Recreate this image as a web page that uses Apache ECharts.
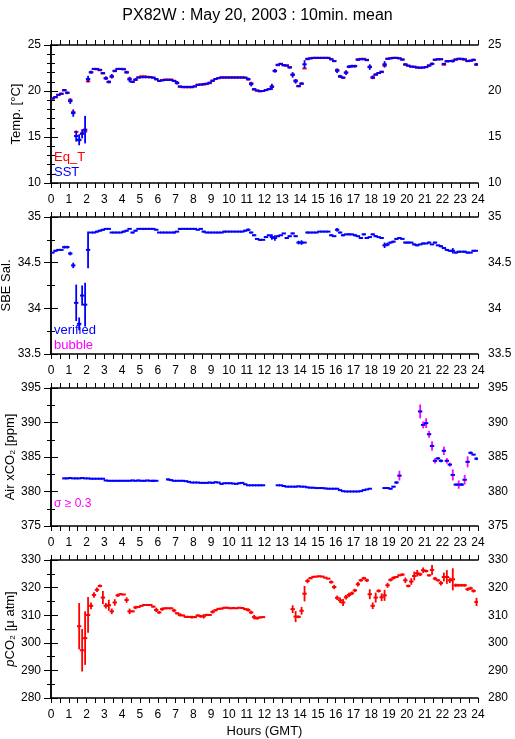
<!DOCTYPE html>
<html><head><meta charset="utf-8">
<script src="https://cdn.jsdelivr.net/npm/echarts@6/dist/echarts.min.js"></script>
<style>html,body{margin:0;padding:0;background:#fff}#c{width:515px;height:739px}</style>
</head><body><div id="c"></div>
<script>
const _ = null;
// 10-minute slots, index k -> mid-time (k*10+5) minutes
const SLOT_MIN = 10;
const hourTicks = [0,1,2,3,4,5,6,7,8,9,10,11,12,13,14,15,16,17,18,19,20,21,22,23,24];

const sstVal = [19.2,19.35,19.6,19.7,20.1,19.8,18.9,17.6,15.1,14.7,15.35,15.8,
21.3,22.05,22.4,22.4,22.3,21.95,21.4,21.0,21.6,22.2,22.4,22.4,
22.35,22.05,21.25,21.0,21.25,21.45,21.5,21.5,21.5,21.5,21.45,21.3,
21.1,21.15,21.2,21.2,21.2,21.1,20.9,20.5,20.45,20.45,20.45,20.45,
20.5,20.65,20.7,20.75,20.8,20.9,21.1,21.3,21.4,21.45,21.45,21.45,
21.45,21.45,21.45,21.45,21.45,21.45,21.3,20.75,20.2,20.05,20.0,20.0,
20.1,20.2,20.45,22.2,22.85,22.95,22.8,22.75,22.55,21.75,21.05,20.55,
20.8,22.9,23.5,23.55,23.6,23.6,23.6,23.6,23.6,23.6,23.45,23.25,
22.2,21.6,21.45,22.0,22.65,22.7,22.7,23.4,23.45,23.45,23.35,22.6,
21.5,21.8,21.95,22.1,22.9,23.5,23.55,23.6,23.6,23.55,23.4,22.9,
22.75,22.65,22.65,22.55,22.55,22.55,22.6,22.75,22.95,23.4,23.45,23.45,
22.95,23.25,23.25,23.25,23.4,23.5,23.5,23.45,23.25,23.3,23.4,22.9];
const sstSd = [0.05,0.1,0.05,0.1,0.1,0.15,0.3,0.4,0.6,0.6,0.5,1.5,
0.35,0.15,0,0,0.05,0.1,0.2,0.15,0.25,0.1,0,0,
0.05,0.15,0.3,0.1,0.15,0,0,0,0,0,0.05,0.1,
0.05,0,0,0,0,0.1,0.2,0.05,0,0,0,0,
0.05,0.1,0.05,0.1,0.05,0.1,0.1,0.1,0.05,0,0,0,
0,0,0,0,0,0,0.15,0.25,0.1,0,0,0,
0.05,0.1,0.35,0.2,0.1,0,0.1,0.05,0.1,0.3,0.25,0.1,
0.15,0.45,0.1,0,0,0,0,0,0,0,0.05,0.1,
0.25,0.15,0.1,0.25,0.15,0.15,0.15,0.1,0,0.05,0.05,0.3,
0.2,0.1,0.1,0.1,0.35,0.1,0,0,0,0,0.05,0.1,
0.05,0,0.05,0,0.05,0.05,0.05,0.05,0.15,0.05,0,0,
0.1,0.05,0.05,0.15,0.05,0,0,0.05,0.1,0.05,0.1,0.15];
const eqtVal = [19.15,19.3,19.55,19.7,20.05,19.8,19.05,17.7,15.55,14.65,15.4,15.6,
21.05,22.0,22.4,22.35,22.25,21.9,21.35,20.95,21.55,22.15,22.4,22.4,
22.4,22.0,21.35,21.0,21.2,21.5,21.6,21.6,21.55,21.5,21.45,21.25,
21.1,21.2,21.25,21.25,21.25,21.1,20.85,20.45,20.4,20.4,20.4,20.4,
20.5,20.7,20.7,20.7,20.75,20.85,21.15,21.3,21.4,21.5,21.5,21.5,
21.5,21.5,21.5,21.5,21.5,21.45,21.25,20.85,20.15,20.05,19.95,20.0,
20.1,20.2,20.5,22.15,22.8,22.95,22.8,22.8,22.6,21.8,21.15,20.5,
20.8,22.45,23.45,23.55,23.6,23.6,23.6,23.6,23.6,23.6,23.45,23.25,
22.3,21.55,21.45,22.0,22.6,22.7,22.7,23.45,23.5,23.5,23.4,22.65,
21.4,21.75,21.95,22.05,22.75,23.5,23.55,23.6,23.6,23.55,23.45,22.85,
22.75,22.65,22.6,22.55,22.5,22.55,22.6,22.8,22.95,23.4,23.45,23.45,
22.85,23.2,23.25,23.3,23.45,23.5,23.45,23.4,23.25,23.3,23.35,22.85];

const salVal = [34.61,34.63,34.64,34.64,34.67,34.67,34.60,34.47,34.06,33.83,34.14,34.04,
34.64,34.83,34.83,34.84,34.85,34.86,34.87,34.87,34.83,34.83,34.83,34.83,
34.84,34.85,34.87,34.83,34.85,34.87,34.87,34.87,34.87,34.87,34.87,34.86,
34.83,34.83,34.83,34.83,34.83,34.83,34.84,34.87,34.87,34.87,34.87,34.87,
34.87,34.86,34.87,34.84,34.83,34.83,34.83,34.83,34.83,34.83,34.84,34.84,
34.84,34.84,34.84,34.84,34.84,34.85,34.86,34.83,34.80,34.76,34.75,34.75,
34.78,34.80,34.78,34.77,34.79,34.80,34.82,34.77,34.79,34.82,34.79,34.72,
34.72,34.72,34.83,34.83,34.83,34.83,34.84,34.84,34.84,34.84,34.80,34.79,
34.86,34.83,34.80,34.81,34.81,34.81,34.80,34.79,34.77,34.81,34.77,34.78,
34.81,34.79,34.78,34.77,34.69,34.70,34.72,34.73,34.76,34.77,34.76,34.72,
34.72,34.72,34.70,34.69,34.70,34.71,34.71,34.72,34.70,34.72,34.69,34.68,
34.66,34.64,34.63,34.63,34.61,34.62,34.62,34.62,34.61,34.61,34.63,34.63];
const salSd = [0.005,0.01,0,0,0.015,0.015,0.02,0.03,0.2,0.07,0.11,0.24,
0.2,0,0,0.01,0.01,0.01,0,0,0,0,0,0,
0.01,0.01,0,0.01,0.01,0,0,0,0,0,0,0,
0,0,0,0,0,0.01,0,0.01,0,0,0,0,
0,0,0,0.01,0,0,0,0,0,0,0.01,0,
0,0,0,0,0,0.01,0.015,0.01,0.01,0,0.01,0,
0.01,0,0.03,0.03,0.01,0,0,0.01,0.01,0.01,0.01,0.02,
0.025,0,0.01,0,0,0,0,0,0,0,0.01,0,
0.02,0.01,0.01,0,0.01,0,0.01,0,0.01,0.01,0.01,0,
0.01,0.01,0,0.01,0.03,0.02,0.01,0.01,0.01,0.01,0,0.01,
0.01,0,0.01,0.01,0,0.01,0,0.01,0,0.01,0,0.01,
0.01,0.01,0.01,0.03,0.01,0.01,0,0.01,0.01,0,0.01,0];

const xco2Val = [_,_,_,_,381.9,381.9,381.95,381.9,381.9,381.9,381.95,381.9,
381.9,381.85,381.85,381.85,381.85,381.85,381.6,381.55,381.55,381.55,381.55,381.55,
381.55,381.55,381.55,381.6,381.55,381.6,381.55,381.55,381.6,381.55,381.55,381.55,
_,_,_,381.75,381.65,381.55,381.55,381.55,381.55,381.5,381.4,381.3,
381.3,381.3,381.25,381.25,381.25,381.3,381.25,381.35,381.3,381.1,381.2,381.2,
381.2,381.15,381.1,381.2,381.25,381.05,380.9,380.9,380.9,380.9,380.9,380.9,
_,_,_,_,380.9,380.9,380.8,380.7,380.7,380.7,380.7,380.75,
380.7,380.7,380.6,380.55,380.55,380.5,380.5,380.5,380.45,380.4,380.4,380.4,
380.4,380.2,380.05,380.0,380.0,380.0,380.0,380.0,380.05,380.2,380.3,380.4,
_,_,_,_,380.5,380.5,380.4,380.7,381.3,382.3,_,_,
_,_,_,_,391.6,389.65,389.9,388.3,386.6,384.45,384.8,384.45,
385.9,384.45,383.9,382.4,381.0,381.0,381.0,381.7,384.3,385.6,385.35,384.75];
const xco2Sd = [0,0,0,0,0.1,0.1,0.1,0.05,0.1,0.05,0,0.05,
0,0.05,0.05,0,0.05,0,0,0,0,0,0.05,0,
0,0,0,0.1,0,0.1,0.05,0.1,0,0.05,0.15,0,
0,0,0,0.15,0.05,0,0,0,0.05,0,0.05,0,
0,0,0,0,0.05,0.1,0.05,0,0.05,0.1,0.05,0.05,
0.1,0.05,0.05,0.1,0,0,0,0,0,0,0,0,
0,0,0,0,0,0,0,0.05,0,0,0.1,0.05,
0,0,0,0,0.05,0,0,0,0,0,0,0.05,
0,0,0,0.05,0.05,0,0,0.05,0,0,0.05,0,
0,0,0,0,0.05,0.05,0.1,0.1,0.2,0.7,0,0,
0,0,0,0,1.0,0.5,0.7,0.5,0.7,0.4,0.15,0.2,
0.6,0.4,0.3,0.8,0.15,0.6,0.2,0.7,0.8,0.2,0.1,0.2];

const pco2Val = [_,_,_,_,_,_,_,_,_,306.0,297.3,301.7,
310.1,313.4,317.35,319.2,320.6,316.4,313.4,313.6,311.4,314.6,317.2,317.6,
317.5,315.5,311.4,311.4,312.8,313.0,313.4,313.7,313.7,313.7,313.1,311.9,
311.0,312.2,312.5,312.5,312.5,311.7,310.7,310.1,309.9,309.4,309.4,309.3,
309.3,309.9,309.6,309.6,310.1,310.1,311.2,311.8,312.3,312.4,312.7,312.7,
312.5,312.6,312.5,312.7,312.6,312.2,311.9,311.0,309.3,308.9,309.2,309.3,
_,_,_,_,_,_,_,_,_,312.2,309.5,309.4,
311.6,317.8,322.4,323.4,323.9,324.0,324.1,324.0,323.6,323.25,322.0,320.2,
316.3,315.4,314.6,316.5,317.35,317.95,319.0,321.2,322.65,323.4,322.65,317.6,
313.4,316.4,318.8,316.5,317.2,320.85,322.8,323.5,323.85,324.45,324.7,322.65,
320.6,322.2,324.2,325.2,324.8,326.3,326.0,324.45,326.4,323.25,322.65,321.6,
323.85,323.85,322.65,323.0,320.85,320.85,320.85,320.85,319.4,319.75,318.8,314.8];
const pco2Sd = [0,0,0,0,0,0,0,0,0,8.4,7.7,9.7,
6.5,1.2,1.0,0.8,0.5,2.4,1.0,2.0,1.0,1.2,0.6,0.3,
0.2,1.0,1.0,0.3,0.6,0.3,0.2,0.1,0.1,0.1,0.3,0.8,
0.5,0.6,0.3,0.2,0.2,0.6,0.4,0.6,0.3,0.3,0.3,0.5,
0.3,0.4,0.5,0.8,0.4,0.3,0.6,0.4,0.3,0.3,0.3,0.3,
0.2,0.4,0.2,0.2,0.3,0.4,0.6,0.6,0.8,0.5,0.3,0.2,
0,0,0,0,0,0,0,0,0,1.4,2.0,0.5,
1.4,2.8,0.8,0.4,0.3,0.2,0.2,0.2,0.2,0.2,0.6,0.8,
0.8,1.0,1.3,0.8,0.8,0.6,0.6,0.8,0.5,0.5,0.6,1.8,
1.2,1.8,0.6,1.4,2.0,0.9,0.6,0.6,0.3,0.3,0.5,1.0,
0.5,1.2,1.6,1.2,0.6,1.0,0.5,0.4,1.8,0.6,0.4,0.8,
1.6,2.5,1.0,4.0,0.6,0.5,0.5,0.5,0.6,0.6,0.6,1.5];

const BLUE = '#0000ff', RED = '#ff0000', MAG = '#ff00ff';
const FONT = '"Liberation Sans", Arial, sans-serif';
const HALF = SLOT_MIN / 2 / 60;
function slotHour(k) { return (k * SLOT_MIN + SLOT_MIN / 2) / 60; }
function toData(vals, sds) {
  const out = [];
  vals.forEach((v, k) => { if (v !== null) out.push([slotHour(k), v, sds ? sds[k] : 0]); });
  return out;
}
function render(hColor, vColorFn) {
  return function (params, api) {
    const t = api.value(0), v = api.value(1), s = api.value(2);
    const a = api.coord([t - HALF, v]), b = api.coord([t + HALF, v]);
    const ch = [];
    if (s > 0) {
      const c = api.coord([t, v - s]), d = api.coord([t, v + s]);
      ch.push({ type: 'line', shape: { x1: c[0], y1: c[1], x2: d[0], y2: d[1] }, style: { stroke: vColorFn(s), lineWidth: 1.8 } });
    }
    ch.push({ type: 'line', shape: { x1: a[0] - 0.7, y1: a[1], x2: b[0] + 0.7, y2: b[1] }, style: { stroke: hColor, lineWidth: 2 } });
    return { type: 'group', children: ch };
  };
}

const grids = [
  { left: 51, width: 427, top: 45, height: 138 },
  { left: 51, width: 427, top: 217, height: 137 },
  { left: 51, width: 427, top: 388, height: 138 },
  { left: 51, width: 427, top: 560, height: 138 }
].map(g => Object.assign({ containLabel: false, outerBoundsMode: 'none' }, g));
const yCfg = [
  { min: 10, max: 25, interval: 5, minor: 5, name: 'Temp. [°C]', gap: 28 },
  { min: 33.5, max: 35, interval: 0.5, minor: 2, name: 'SBE Sal.', gap: 38 },
  { min: 375, max: 395, interval: 5, minor: 2, name: 'Air xCO₂ [ppm]', gap: 34 },
  { min: 280, max: 330, interval: 10, minor: 2, name: '{i|p}CO₂ [μ atm]', gap: 34 }
];
const axLine = { lineStyle: { color: '#000', width: 1.5 } };
const lblStyle = { color: '#000', fontSize: 12, fontFamily: FONT };
const xAxes = [], yAxes = [];
grids.forEach((g, i) => {
  xAxes.push({
    gridIndex: i, type: 'value', min: 0, max: 24, interval: 1, position: 'bottom',
    axisLine: axLine, splitLine: { show: false },
    axisTick: { length: 5, lineStyle: { color: '#000' } },
    minorTick: { show: true, splitNumber: 2, length: 5, lineStyle: { color: '#000' } },
    axisLabel: Object.assign({ margin: 11, formatter: v => hourTicks.includes(v) ? String(v) : '' }, lblStyle),
    name: i === 3 ? 'Hours (GMT)' : '', nameLocation: 'middle', nameGap: 27, nameMoveOverlap: false,
    nameTextStyle: { color: '#000', fontSize: 13, fontFamily: FONT }
  });
  xAxes.push({
    gridIndex: i, type: 'value', min: 0, max: 24, interval: 1, position: 'top',
    axisLine: axLine, splitLine: { show: false },
    axisTick: { length: 5, lineStyle: { color: '#000' } },
    minorTick: { show: true, splitNumber: 2, length: 5, lineStyle: { color: '#000' } },
    axisLabel: { show: false }
  });
  const c = yCfg[i];
  const common = {
    gridIndex: i, type: 'value', min: c.min, max: c.max, interval: c.interval,
    axisLine: axLine, splitLine: { show: false },
    axisTick: { length: 7, lineStyle: { color: '#000' } },
    minorTick: { show: true, splitNumber: c.minor, length: 4, lineStyle: { color: '#000' } }
  };
  yAxes.push(Object.assign({}, common, {
    position: 'left',
    axisLabel: Object.assign({ margin: 10 }, lblStyle),
    name: c.name, nameLocation: 'middle', nameGap: c.gap, nameRotate: 90, nameMoveOverlap: false,
    nameTextStyle: { color: '#000', fontSize: 13, fontFamily: FONT, rich: { i: { fontStyle: 'italic', fontSize: 13, fontFamily: FONT } } }
  }));
  yAxes.push(Object.assign({}, common, {
    position: 'right',
    axisLabel: Object.assign({ margin: 10 }, lblStyle)
  }));
});

function series(i, data, hColor, vFn) {
  return { type: 'custom', xAxisIndex: 2 * i, yAxisIndex: 2 * i, data: data,
    encode: { x: 0, y: 1 }, renderItem: render(hColor, vFn), animation: false, clip: true };
}

const option = {
  animation: false,
  backgroundColor: '#fff',
  title: { text: 'PX82W : May 20, 2003 : 10min. mean', left: 'center', top: 3,
    textStyle: { fontSize: 16, fontWeight: 'normal', color: '#000', fontFamily: FONT } },
  grid: grids,
  xAxis: xAxes,
  yAxis: yAxes,
  graphic: [
    { type: 'text', left: 54, top: 151, style: { text: 'Eq_T', fill: RED, fontSize: 13, fontFamily: FONT } },
    { type: 'text', left: 54, top: 166, style: { text: 'SST', fill: BLUE, fontSize: 13, fontFamily: FONT } },
    { type: 'text', left: 54, top: 324, style: { text: 'verified', fill: BLUE, fontSize: 13, fontFamily: FONT } },
    { type: 'text', left: 54, top: 339, style: { text: 'bubble', fill: MAG, fontSize: 13, fontFamily: FONT } },
    { type: 'text', left: 54, top: 498, style: { text: 'σ ≥ 0.3', fill: MAG, fontSize: 12, fontFamily: FONT } }
  ],
  series: [
    series(0, toData(eqtVal, null), RED, () => RED),
    series(0, toData(sstVal, sstSd), BLUE, () => BLUE),
    series(1, toData(salVal, salSd), BLUE, () => BLUE),
    series(2, toData(xco2Val, xco2Sd), BLUE, s => (s >= 0.3 ? MAG : BLUE)),
    series(3, toData(pco2Val, pco2Sd), RED, () => RED)
  ]
};
const chart = echarts.init(document.getElementById('c'), null, { renderer: 'canvas' });
chart.setOption(option);
</script></body></html>
